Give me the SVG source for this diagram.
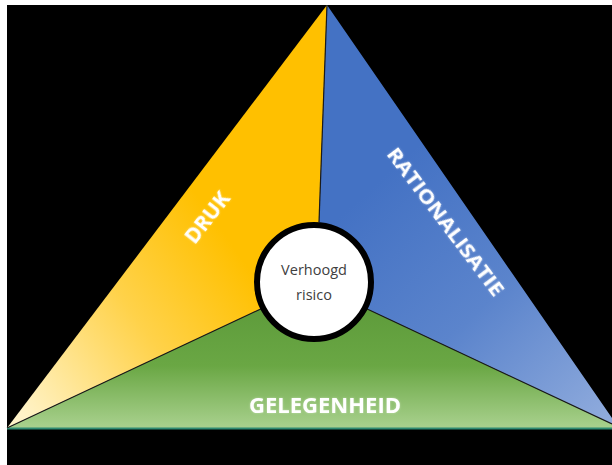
<svg xmlns="http://www.w3.org/2000/svg" width="612" height="465" viewBox="0 0 612 465">
  <defs>
    <linearGradient id="gYellow" gradientUnits="userSpaceOnUse" x1="30" y1="425" x2="250" y2="270">
      <stop offset="0" stop-color="#fff3c8"/>
      <stop offset="0.55" stop-color="#ffd24a"/>
      <stop offset="1" stop-color="#ffc000"/>
    </linearGradient>
    <linearGradient id="gBlue" gradientUnits="userSpaceOnUse" x1="380" y1="180" x2="600" y2="420">
      <stop offset="0" stop-color="#4472c4"/>
      <stop offset="0.5" stop-color="#5b84cc"/>
      <stop offset="1" stop-color="#8eaadc"/>
    </linearGradient>
    <linearGradient id="gGreen" gradientUnits="userSpaceOnUse" x1="0" y1="290" x2="0" y2="428">
      <stop offset="0" stop-color="#5a9838"/>
      <stop offset="0.55" stop-color="#6aa744"/>
      <stop offset="1" stop-color="#a9d18e"/>
    </linearGradient>
    <filter id="glow" x="-20%" y="-40%" width="140%" height="180%">
      <feGaussianBlur in="SourceAlpha" stdDeviation="1.2" result="b"/>
      <feFlood flood-color="#ffffff" flood-opacity="0.35"/>
      <feComposite in2="b" operator="in" result="g"/>
      <feMerge><feMergeNode in="g"/><feMergeNode in="SourceGraphic"/></feMerge>
    </filter>
  </defs>
  <style>
    .edge { fill: none; stroke: #1a1a1a; stroke-width: 1.2; }
    .label { font-family: "Open Sans", "Liberation Sans", sans-serif; font-weight: 700; fill: #ffffff; text-anchor: middle; }
    .center { font-family: "Open Sans", "Liberation Sans", sans-serif; font-size: 14.5px; fill: #404040; text-anchor: middle; }
  </style>

  <rect x="0" y="0" width="612" height="465" fill="#ffffff"/>
  <rect x="7" y="5" width="605" height="460" fill="#000000"/>

  <g id="druk">
    <polygon points="327,5 319,222 314,284 7,428" fill="url(#gYellow)"/>
    <text class="label" font-size="21" transform="translate(213,222) rotate(-52)" filter="url(#glow)">DRUK</text>
  </g>

  <g id="rationalisatie">
    <polygon points="327,5 612,418 612,424 314,284 319,222" fill="url(#gBlue)"/>
    <text class="label" font-size="19.5" textLength="180" lengthAdjust="spacingAndGlyphs" transform="translate(440,226) rotate(53)" filter="url(#glow)">RATIONALISATIE</text>
  </g>

  <g id="gelegenheid">
    <polygon points="7,428 314,284 612,424 612,428" fill="url(#gGreen)"/>
    <line x1="7" y1="428.5" x2="612" y2="428.5" stroke="#2f8a72" stroke-width="2"/>
    <text class="label" font-size="21" x="325" y="413" textLength="152" lengthAdjust="spacingAndGlyphs" filter="url(#glow)">GELEGENHEID</text>
  </g>

  <g id="connectors">
    <polyline class="edge" points="327,5 319,222"/>
    <line class="edge" x1="7" y1="428" x2="314" y2="284"/>
    <line class="edge" x1="612" y1="424" x2="314" y2="284"/>
  </g>

  <g id="verhoogd-risico">
    <circle cx="314" cy="282" r="57" fill="#ffffff" stroke="#000000" stroke-width="6"/>
    <text class="center" x="314" y="275">Verhoogd</text>
    <text class="center" x="314" y="300">risico</text>
  </g>
</svg>
